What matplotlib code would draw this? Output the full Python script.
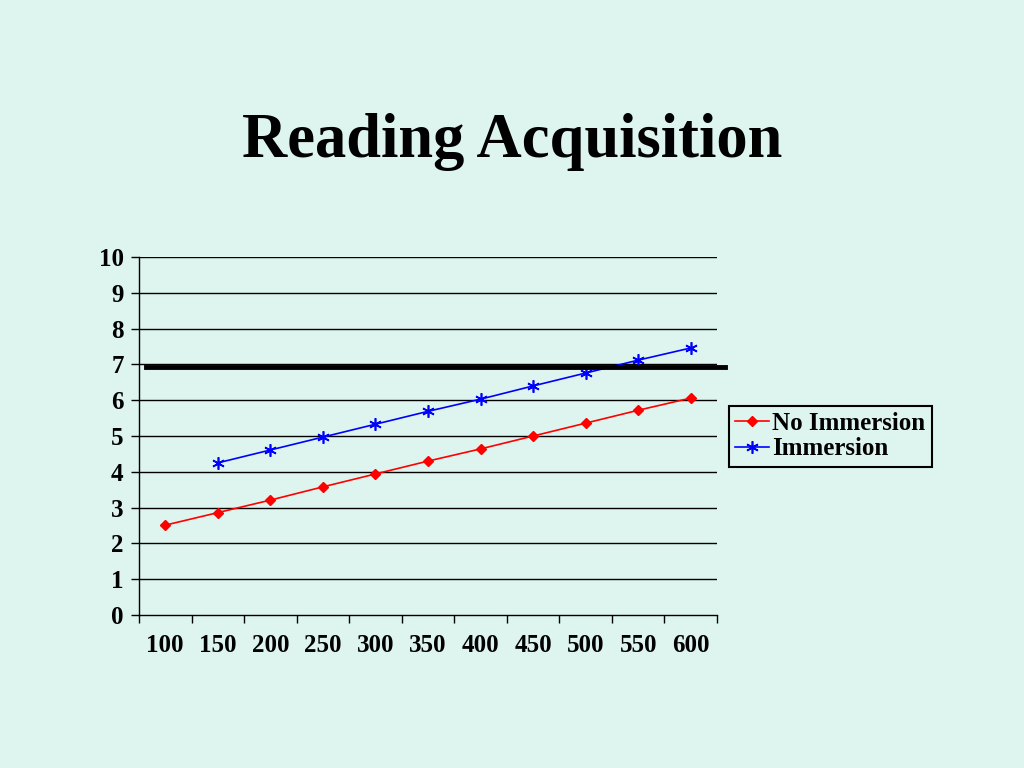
import numpy as np
import matplotlib.pyplot as plt

# ── Data ─────────────────────────────────────────────────────────────────────
categories = ["100", "150", "200", "250", "300", "350", "400", "450", "500", "550", "600"]
no_immersion = [2.51, 2.86, 3.21, 3.58, 3.94, 4.30, 4.64, 5.00, 5.36, 5.72, 6.06]
immersion = [np.nan, 4.25, 4.61, 4.97, 5.33, 5.69, 6.03, 6.40, 6.76, 7.12, 7.46]
target_level = 6.93

BG = "#ddf5ee"
SERIF = ["Liberation Serif", "DejaVu Serif"]

plt.rcParams["font.family"] = SERIF
plt.rcParams["font.weight"] = "bold"

fig = plt.figure(figsize=(10.24, 7.68), dpi=100, facecolor=BG)
ax = fig.add_axes([0.1357, 0.1992, 0.5645, 0.4661])
ax.set_facecolor(BG)

x = np.arange(len(categories))

# horizontal gridlines
for yv in range(1, 11):
    ax.axhline(yv, color="black", lw=1.0, zorder=1)

ax.plot(x, no_immersion, color="#ff0000", lw=1.2, marker="D", ms=5,
        mfc="#ff0000", mec="#ff0000", label="No Immersion", zorder=3)
ax.plot(x, immersion, color="#0000ff", lw=1.2, marker=(6, 2, 0), ms=9,
        mew=1.2, mec="#0000ff", label="Immersion", zorder=3)

# thick reference line (extends slightly past plot area)
ax.axhline(target_level, xmin=0.012, xmax=1.014, color="black", lw=3.5,
           clip_on=False, zorder=4)

ax.set_xlim(-0.5, len(categories) - 0.5)
ax.set_ylim(0, 10)

ax.set_xticks(x)
ax.set_xticklabels(categories, fontsize=18, fontweight="bold")
ax.tick_params(axis="x", which="major", length=0, pad=14)
ax.set_xticks(np.arange(-0.5, len(categories)), minor=True)
ax.tick_params(axis="x", which="minor", length=6, width=1, direction="out")

ax.set_yticks(range(0, 11))
ax.set_yticklabels([str(v) for v in range(0, 11)], fontsize=18, fontweight="bold")
ax.tick_params(axis="y", length=6, width=1, direction="out", pad=5)

for s in ["top", "right"]:
    ax.spines[s].set_visible(False)
for s in ["left", "bottom"]:
    ax.spines[s].set_linewidth(1.0)

leg = ax.legend(loc="upper left", bbox_to_anchor=(1.02, 0.585), frameon=True,
                fancybox=False, edgecolor="black", facecolor=BG, framealpha=1,
                prop={"family": SERIF, "weight": "bold", "size": 18},
                handlelength=1.35, handletextpad=0.15, borderpad=0.25,
                labelspacing=0.1, borderaxespad=0)
leg.get_frame().set_linewidth(1.5)

fig.text(0.5, 0.7956, "Reading Acquisition", ha="center", va="baseline",
         fontsize=45, fontweight="bold", family=SERIF)

fig.savefig("out.png", dpi=100, facecolor=BG)
